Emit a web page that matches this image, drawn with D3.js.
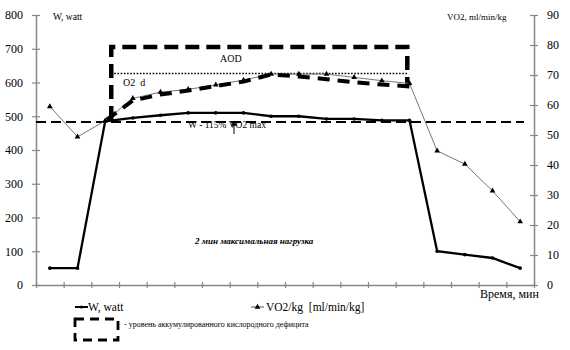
<!DOCTYPE html>
<html><head><meta charset="utf-8">
<script src="https://cdn.jsdelivr.net/npm/d3@7/dist/d3.min.js"></script>
<style>body{margin:0;background:#fff}svg{display:block}svg text{font-family:"Liberation Serif","Times New Roman",Times,serif !important}</style>
</head><body><svg id="c" width="570" height="350" font-family="Liberation Serif"></svg>
<script>
// categories = time points (18 intervals)
const timePoints = d3.range(18);
const wattValues = [50, 50, 485, 495, 503, 510, 510, 510, 500, 500, 492, 492, 488, 488, 100, 90, 80, 50];
const vo2Values = [59.5, 49.4, 54.7, 62.2, 64.3, 65.2, 66.7, 68.3, 70.3, 70.3, 70.3, 69.2, 68.1, 67.2, 44.7, 40.3, 31.4, 21.1];
const deficitIdx = [2,3,4,5,6,7,8,9,10,11,12,13];
const deficitVO2 = [54.7, 61.5, 63.5, 64.8, 66.3, 67.8, 70.2, 69.5, 68.6, 67.6, 66.8, 66.2];
const leftTicks = [0,100,200,300,400,500,600,700,800];
const rightTicks = [0,10,20,30,40,50,60,70,80,90];
const wLevel = 483;      // W - 115% VO2max line
const o2dLevel = 70.5;   // O2 d dotted level (right scale)
const aodLevel = 705;    // AOD box top (left scale)
const aodX = [2.72, 13.42];

const svg = d3.select("#c");
const x = d3.scaleLinear().domain([0,18]).range([36,534]);
const yL = d3.scaleLinear().domain([0,800]).range([285,15]);
const yR = d3.scaleLinear().domain([0,90]).range([285,15]);
const axisCol = "#888";
const FF = '"Liberation Serif","Times New Roman",serif';

// axes
const gL = svg.append("g").attr("transform","translate(36,0)")
  .call(d3.axisLeft(yL).tickValues(leftTicks).tickSize(4).tickSizeOuter(0).tickPadding(9));
const gR = svg.append("g").attr("transform","translate(534,0)")
  .call(d3.axisRight(yR).tickValues(rightTicks).tickSize(4).tickSizeOuter(0).tickPadding(9));
const gX = svg.append("g").attr("transform","translate(0,285)")
  .call(d3.axisBottom(x).tickValues(d3.range(19)).tickSize(3).tickSizeOuter(0).tickFormat(""));
[gL,gR,gX].forEach(g=>g.attr("font-family",FF));
[gL,gR].forEach(g=>{
  g.select(".domain").attr("stroke",axisCol).attr("stroke-width",1.5);
  g.selectAll(".tick line").attr("x1",-4).attr("x2",4).attr("stroke",axisCol).attr("stroke-width",1.2);
  g.selectAll(".tick text").attr("font-size",12).attr("fill","#000").attr("font-family",FF);
});
gX.select(".domain").attr("stroke",axisCol).attr("stroke-width",1.5);
gX.selectAll(".tick line").attr("y1",-3).attr("y2",3).attr("stroke",axisCol).attr("stroke-width",1.2);

function txt(xp,yp,size,s){return svg.append("text").attr("x",xp).attr("y",yp).attr("font-size",size).attr("font-family",FF).text(s);}
// axis titles
txt(53,20,9.5,"W, watt");
txt(447,20,9,"VO2, ml/min/kg");
txt(480,298,12,"Время, мин");

// horizontal dashed W level
svg.append("line").attr("x1",36).attr("x2",524).attr("y1",yL(wLevel)).attr("y2",yL(wLevel))
  .attr("stroke","#000").attr("stroke-width",1.8).attr("stroke-dasharray","10,5");

// AOD box
svg.append("path")
  .attr("d",`M${x(aodX[0])},${yL(wLevel)-2}L${x(aodX[0])},${yL(aodLevel)}L${x(aodX[1])},${yL(aodLevel)}L${x(aodX[1])},${yR(66.5)}`)
  .attr("fill","none").attr("stroke","#000").attr("stroke-width",4.5).attr("stroke-dasharray","14,7");
// O2 d dotted
svg.append("line").attr("x1",x(aodX[0])+3).attr("x2",x(aodX[1])).attr("y1",yR(o2dLevel)).attr("y2",yR(o2dLevel))
  .attr("stroke","#000").attr("stroke-width",1.6).attr("stroke-dasharray","1.6,1.6");

// VO2 line (gray)
const lineR = d3.line().x((d,i)=>x(i+0.5)).y(d=>yR(d));
svg.append("path").datum(vo2Values).attr("d",lineR).attr("fill","none").attr("stroke","#777").attr("stroke-width",1);
// deficit heavy dashed line
const lineD = d3.line().x((d,i)=>x(deficitIdx[i]+0.5)).y(d=>yR(d));
svg.append("path").datum(deficitVO2).attr("d",lineD).attr("fill","none").attr("stroke","#000")
  .attr("stroke-width",4).attr("stroke-dasharray","12,8").attr("stroke-dashoffset",-2);
const tri = d3.symbol().type(d3.symbolTriangle).size(14);
svg.append("g").selectAll("path").data(vo2Values).join("path")
  .attr("transform",(d,i)=>`translate(${x(i+0.5)},${yR(d)})`).attr("d",tri).attr("fill","#000");

// W line
const lineL = d3.line().x((d,i)=>x(i+0.5)).y(d=>yL(d));
svg.append("path").datum(wattValues).attr("d",lineL).attr("fill","none").attr("stroke","#000").attr("stroke-width",2.3);
svg.append("g").selectAll("circle").data(wattValues).join("circle")
  .attr("cx",(d,i)=>x(i+0.5)).attr("cy",d=>yL(d)).attr("r",1.8).attr("fill","#000");

// annotations
txt(220,62,10,"AOD");
txt(123,86,10,"O2  d").attr("xml:space","preserve");
txt(188,128,9.5,"W - 115% VO2 max");
svg.append("line").attr("x1",234).attr("x2",234).attr("y1",134).attr("y2",124).attr("stroke","#000").attr("stroke-width",1);
svg.append("path").attr("d",d3.symbol().type(d3.symbolTriangle).size(16)).attr("transform","translate(234,124)").attr("fill","#000");
txt(195,244,9,"2 мин максимальная нагрузка").attr("font-weight","bold").attr("font-style","italic");

// legend
svg.append("line").attr("x1",75).attr("x2",88).attr("y1",307).attr("y2",307).attr("stroke","#000").attr("stroke-width",2);
svg.append("circle").attr("cx",81.5).attr("cy",307).attr("r",1.6).attr("fill","#000");
txt(88,311,11.5,"W, watt");
svg.append("line").attr("x1",251).attr("x2",264).attr("y1",307).attr("y2",307).attr("stroke","#555").attr("stroke-width",1);
svg.append("path").attr("d",tri).attr("transform","translate(257.5,307)").attr("fill","#000");
txt(266,311,11.5,"VO2/kg  [ml/min/kg]").attr("xml:space","preserve");
svg.append("rect").attr("x",75).attr("y",319).attr("width",43).attr("height",21).attr("fill","none")
  .attr("stroke","#000").attr("stroke-width",2.8).attr("stroke-dasharray","9,6");
txt(124,327,8,"- уровень аккумулированного кислородного дефицита");
</script></body></html>
